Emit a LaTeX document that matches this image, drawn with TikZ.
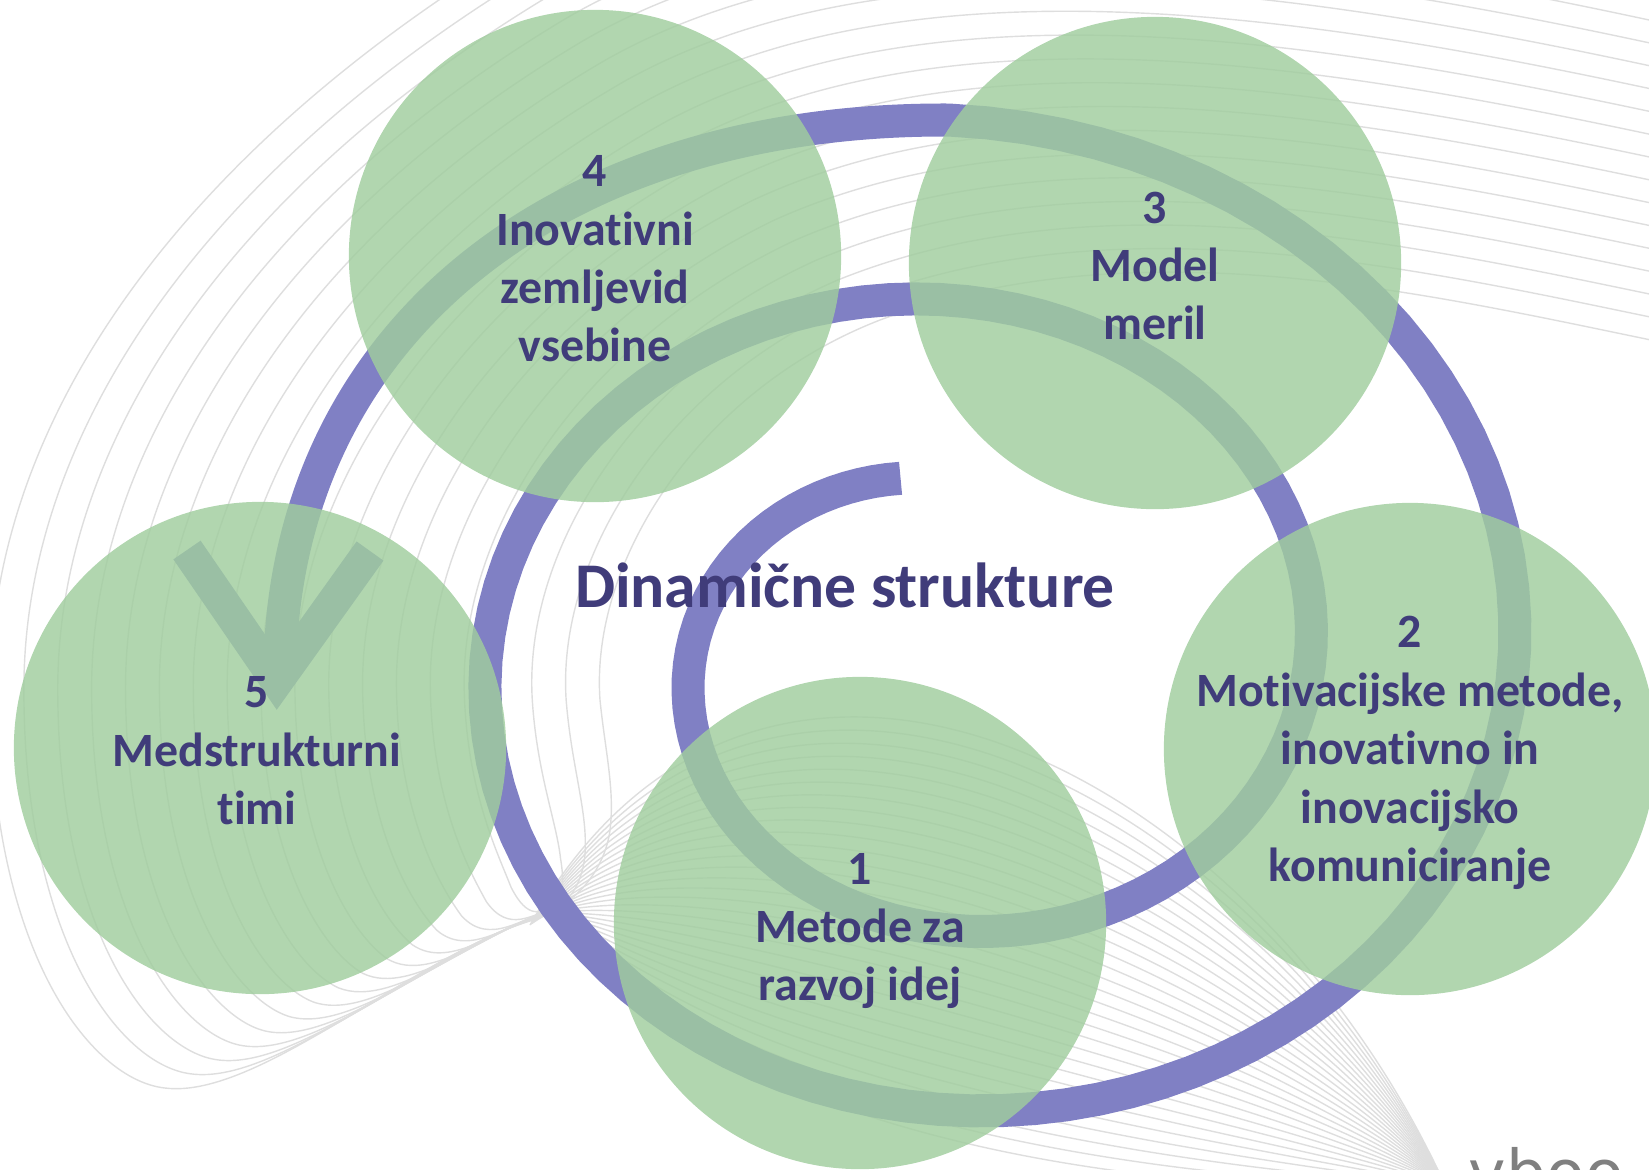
\documentclass[tikz,border=0pt]{standalone}
\usepackage{fontspec}
\setmainfont{Carlito}[Ligatures=NoCommon]
\newfontfamily\logofont{DejaVu Sans}
\usetikzlibrary{calc}
\definecolor{spiralna}{RGB}{128,128,196}
\definecolor{zelena}{RGB}{160,205,158}
\definecolor{napis}{RGB}{64,60,122}
\definecolor{ozadje}{RGB}{222,222,222}
\tikzstyle{krog} = [circle, fill=zelena, fill opacity=0.82, minimum size=4.92cm, inner sep=0pt]
\tikzstyle{opis} = [align=center, text=napis, inner sep=0pt, font=\bfseries\fontsize{13.6}{16.6}\selectfont]
\tikzstyle{spirala} = [draw=spiralna, line width=0.33cm]
\tikzstyle{linija} = [draw=ozadje, line width=0.4pt]

\begin{document}
\begin{tikzpicture}[x=0.01cm,y=-0.01cm]
	\useasboundingbox (0,0) rectangle (1649,1169);
	\clip (0,0) rectangle (1649,1169);

	% ozadje: tanke sive crte
	\coordinate (ao0) at (540,918);  \coordinate (ai0) at (560,905);
	\coordinate (ao1) at (420,950);  \coordinate (ai1) at (575,900);
	\coordinate (ao2) at (260,1100); \coordinate (ai2) at (605,870);
	\coordinate (ao3) at (165,1088); \coordinate (ai3) at (610,830);
	\coordinate (ao4) at (90,1080);  \coordinate (ai4) at (615,790);
	\coordinate (ao5) at (-10,950);  \coordinate (ai5) at (605,750);
	\coordinate (ao6) at (-10,690);  \coordinate (ai6) at (600,700);
	\coordinate (ao7) at (-10,420);  \coordinate (ai7) at (590,560);
	\coordinate (ao8) at (180,160);  \coordinate (ai8) at (700,390);
	\coordinate (ao9) at (500,-40);  \coordinate (ai9) at (880,320);
	\coordinate (ao10) at (800,-230); \coordinate (ai10) at (1150,220);
	\coordinate (ao11) at (1300,-150); \coordinate (ai11) at (1450,300);
	\coordinate (ao12) at (1700,-60); \coordinate (ai12) at (1700,350);
	\foreach \i in {0,...,18} {
		\pgfmathsetmacro\s{\i/18}
		\draw[linija] ($(ao0)!\s!(ai0)$) .. controls ($(ao1)!\s!(ai1)$) and ($(ao2)!\s!(ai2)$) .. ($(ao3)!\s!(ai3)$)
			.. controls ($(ao4)!\s!(ai4)$) and ($(ao5)!\s!(ai5)$) .. ($(ao6)!\s!(ai6)$)
			.. controls ($(ao7)!\s!(ai7)$) and ($(ao8)!\s!(ai8)$) .. ($(ao9)!\s!(ai9)$)
			.. controls ($(ao10)!\s!(ai10)$) and ($(ao11)!\s!(ai11)$) .. ($(ao12)!\s!(ai12)$);
	}
	\coordinate (bq0) at (530,925);  \coordinate (bq1) at (560,905);
	\coordinate (bz0) at (760,520);  \coordinate (bz1) at (700,1150);
	\coordinate (bk0) at (1250,760); \coordinate (bk1) at (1200,1200);
	\coordinate (fokus) at (1445,1185);
	\foreach \i in {0,...,29} {
		\pgfmathsetmacro\s{\i/29}
		\draw[linija] ($(bq0)!\s!(bq1)$) .. controls ($(bz0)!\s!(bz1)$) and ($(bk0)!\s!(bk1)$) .. (fokus);
	}

	% spirala s puscico
	\coordinate (konica) at (277,681);
	\draw[spirala] plot[domain=103:810, samples=200, variable=\t]
		({949+(208+0.5667*(\t-90))*cos(\t)}, {660-(180+0.5*(\t-90))*sin(\t)})
		.. controls (560,118) and (290,330) .. (280,660);
	\draw[spirala, line join=miter] (187,550) -- (konica) -- (370,551);

	% krogi
	\node[krog] (k1) at (860,923) {};
	\node[krog] (k2) at (1410,749) {};
	\node[krog] (k3) at (1155,263) {};
	\node[krog] (k4) at (595,256) {};
	\node[krog] (k5) at (260,748) {};

	\node[opis] (t1) at (860,931) {1\\Metode za\\razvoj idej};
	\node[opis] (t2) at (1410,753) {2\\Motivacijske metode,\\inovativno in\\inovacijsko\\komuniciranje};
	\node[opis] (t3) at (1155,266) {3\\Model\\meril};
	\node[opis] (t4) at (595,259) {4\\Inovativni\\zemljevid\\vsebine};
	\node[opis] (t5) at (257,751) {5\\Medstrukturni\\timi};

	\node[text=napis, font=\bfseries\fontsize{18.1}{22}\selectfont] (naslov) at (845,585) {Dinamične strukture};
	\node[anchor=base west, text=black!50, inner sep=0pt, font=\logofont\fontsize{18}{21}\selectfont] (logo) at (1468,1195) {vboo};
\end{tikzpicture}
\end{document}
